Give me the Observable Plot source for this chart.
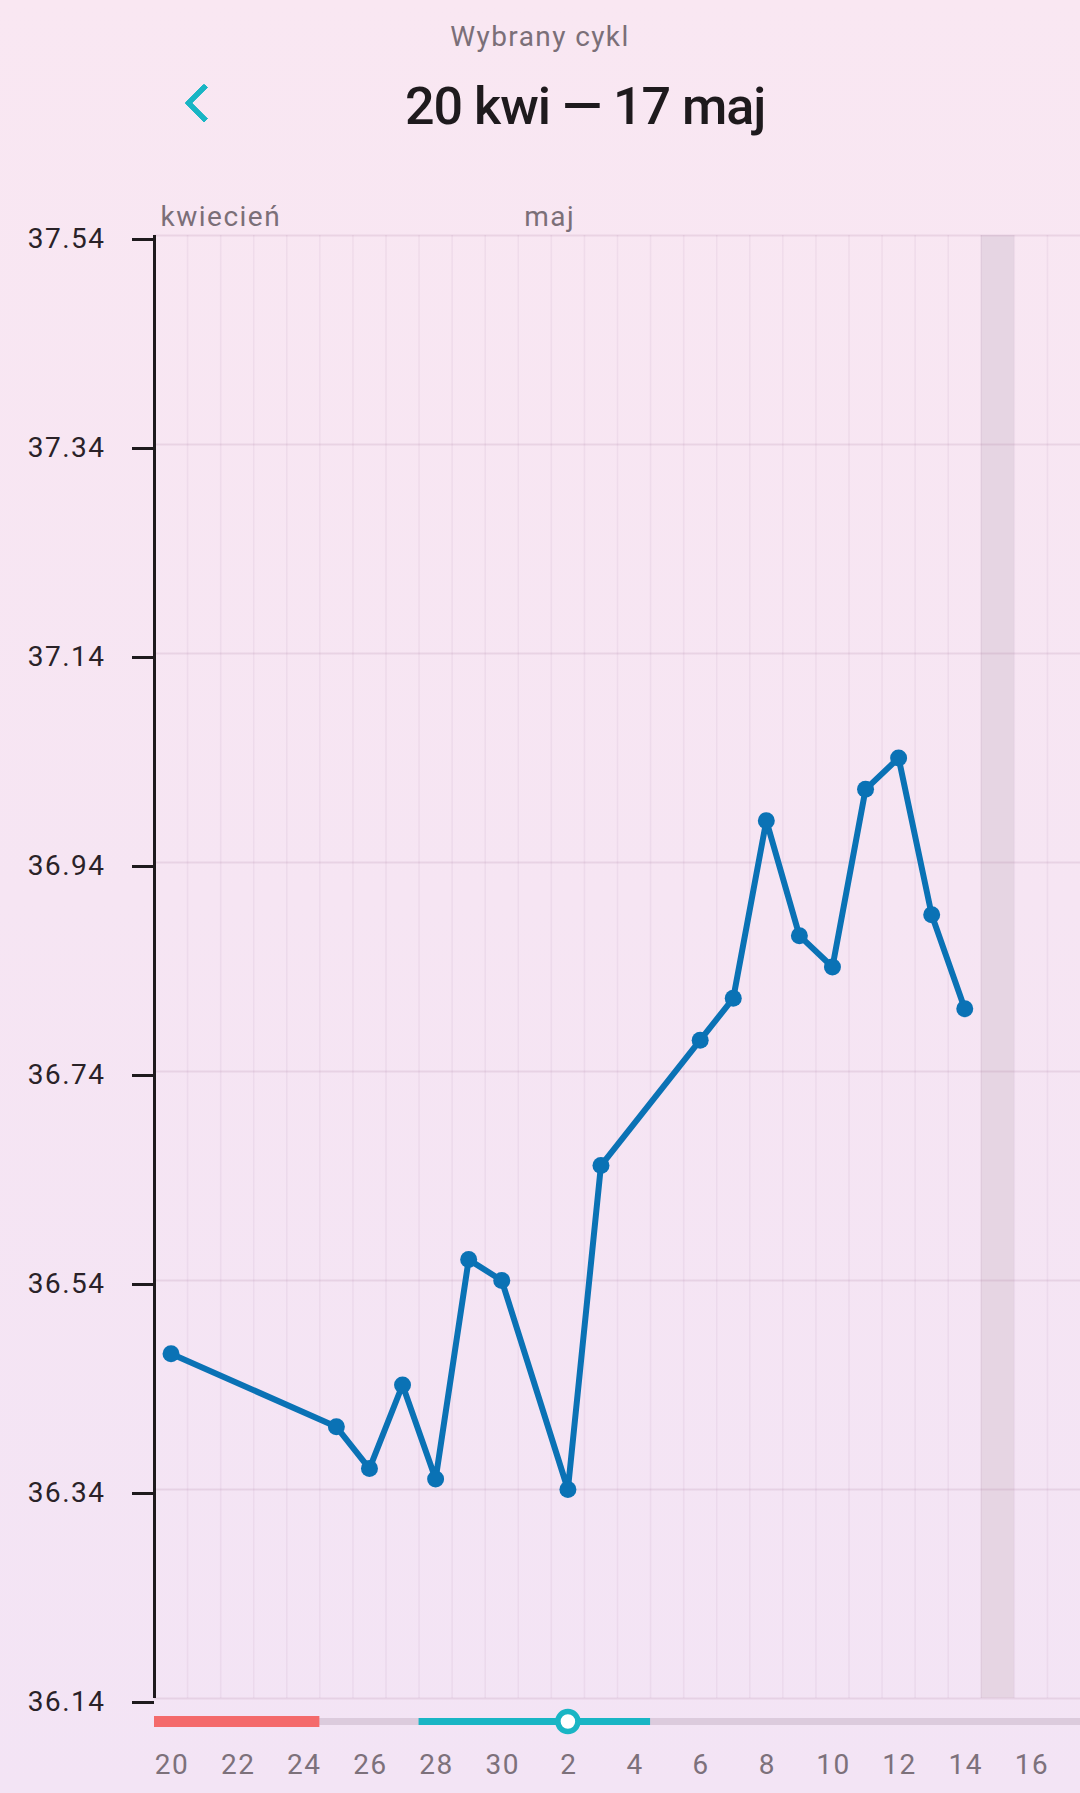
<!DOCTYPE html>
<html>
<head>
<meta charset="utf-8">
<script src="https://cdn.jsdelivr.net/npm/d3@7"></script>
<script src="https://cdn.jsdelivr.net/npm/@observablehq/plot@0.6"></script>
<style>
  html, body { margin: 0; padding: 0; }
  body { width: 1080px; height: 1793px; overflow: hidden; font-family: Roboto, "Noto Sans", sans-serif;
    background: linear-gradient(180deg, #f9e7f2 0%, #f6e5f3 50%, #f3e4f5 100%); }
  #page { position: relative; width: 1080px; height: 1793px; }
  #sub { position: absolute; top: 19px; left: 0; width: 1080px; text-align: center; font-size: 28px; color: #7b6f78; letter-spacing: 1.4px; line-height: 36px; }
  #title { position: absolute; top: 75px; left: 405px; font-size: 52px; font-weight: 500; color: #1e1a1d; white-space: nowrap; letter-spacing: -1px; line-height: 64px; }
  #back { position: absolute; left: 190px; top: 89px; width: 22px; height: 22px; border-left: 6px solid #19b5c4; border-bottom: 6px solid #19b5c4; transform: rotate(45deg); border-radius: 2px; }
  #chart { position: absolute; left: 0; top: 180px; }
  #chart svg text { letter-spacing: 1.5px; }
</style>
</head>
<body>
<div id="page">
  <div id="sub">Wybrany cykl</div>
  <div id="back"></div>
  <div id="title">20 kwi — 17 maj</div>
  <div id="chart"></div>
</div>
<script>
// ---- data ----
const year = 2024;
const measureDays = ["04-20","04-25","04-26","04-27","04-28","04-29","04-30","05-02","05-03","05-06","05-07","05-08","05-09","05-10","05-11","05-12","05-13","05-14"];
const temps = [36.47,36.40,36.36,36.44,36.35,36.56,36.54,36.34,36.65,36.77,36.81,36.98,36.87,36.84,37.01,37.04,36.89,36.80];
const yTicks = [36.14,36.34,36.54,36.74,36.94,37.14,37.34,37.54];
const xTickDays = ["04-20","04-22","04-24","04-26","04-28","04-30","05-02","05-04","05-06","05-08","05-10","05-12","05-14","05-16"];
const monthNames = ["kwiecień","maj"];
const monthStarts = ["04-20","05-01"];
const cycleStart = "04-20";
const cycleEndExclusive = "05-18";
const phaseNames = ["track","period","fertile"];
const phaseStarts = ["04-20","04-20","04-28"];
const phaseEndsExcl = ["05-18","04-25","05-05"];
const phaseColors = ["#dccbdd","#f46a6b","#19b5c4"];
const phaseWidths = [7, 11, 7];
const ovulationDay = "05-02";
const todayDay = "05-15";

// ---- helpers ----
const day = (s, h = 0) => { const [m, d] = s.split("-").map(Number); return new Date(Date.UTC(year, m - 1, d, h)); };
const noon = s => day(s, 12);

const points = measureDays.map((s, i) => ({date: noon(s), t: temps[i]}));
const x0 = day(cycleStart), x1 = day(cycleEndExclusive);
const dayLines = d3.utcDay.range(d3.utcDay.offset(x0, 1), x1);
const yMin = yTicks[0], yMax = yTicks[yTicks.length - 1];
const phases = phaseNames.map((n, i) => ({name: n, a: day(phaseStarts[i]), b: day(phaseEndsExcl[i]), c: phaseColors[i], w: phaseWidths[i]}));
const months = monthNames.map((n, i) => ({name: n, date: day(monthStarts[i])}));

const chart = Plot.plot({
  width: 1080,
  height: 1613,
  marginLeft: 154,
  marginRight: 0,
  marginTop: 55,
  marginBottom: 95,
  style: {fontFamily: "Roboto, 'Noto Sans', sans-serif", fontSize: "28px", background: "transparent", overflow: "visible"},
  x: {type: "utc", domain: [x0, x1]},
  y: {domain: [yMin, yMax]},
  marks: [
    // today highlight
    Plot.rectY([day(todayDay)], {x1: d => d, x2: d => d3.utcDay.offset(d, 1), y1: yMin, y2: yMax, fill: "#e6d5e3"}),
    // vertical day grid
    Plot.ruleX(dayLines, {y1: yMin, y2: yMax, stroke: "#a07098", strokeOpacity: 0.09, strokeWidth: 1.5}),
    // horizontal grid
    Plot.ruleY(yTicks, {stroke: "#a07098", strokeOpacity: 0.16, strokeWidth: 2}),
    // y axis
    Plot.axisY({ticks: yTicks, tickFormat: d3.format(".2f"), label: null, tickSize: 22, tickPadding: 27, dy: 4, fill: "#2a2228", stroke: "#1e1a1d", strokeWidth: 3, fontSize: 28}),
    Plot.ruleX([x0], {y1: yMin, y2: yMax, stroke: "#1e1a1d", strokeWidth: 3}),
    // x axis labels
    Plot.axisX({ticks: xTickDays.map(noon), tickFormat: d => d.getUTCDate(), label: null, tickSize: 0, tickPadding: 56, dx: 1, fill: "#7d717b", fontSize: 28}),
    // month labels
    Plot.text(months, {x: "date", y: yMax, text: "name", textAnchor: "start", lineAnchor: "bottom", dx: 6, dy: -10, fill: "#7b6f78", fontSize: 28}),
    // phase bar
    Plot.ruleY(phases, {y: yMin, x1: "a", x2: "b", stroke: "c", strokeWidth: "w", dy: 23}),
    Plot.dot([noon(ovulationDay)], {x: d => d, y: yMin, dy: 23, r: 10, fill: "#ffffff", stroke: "#19b5c4", strokeWidth: 5.5}),
    // temperature line
    Plot.line(points, {x: "date", y: "t", stroke: "#0a72b5", strokeWidth: 6}),
    Plot.dot(points, {x: "date", y: "t", r: 8.5, fill: "#0a72b5"})
  ]
});
document.getElementById("chart").appendChild(chart);
</script>
</body>
</html>
